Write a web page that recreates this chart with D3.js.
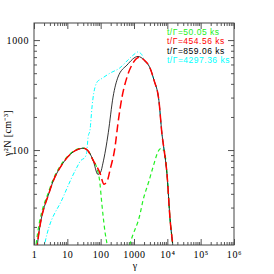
<!DOCTYPE html>
<html>
<head>
<meta charset="utf-8">
<script src="https://cdn.jsdelivr.net/npm/d3@7"></script>
<style>
  body { margin: 0; background: #fff; }
  svg { display: block; }
  .tick text { font-family: "Liberation Serif", serif; font-size: 10px; letter-spacing: 0.6px; fill: #000; }
  .axis path { display: none; }
  .axis line { stroke: #555; }
</style>
</head>
<body>
<div id="chart"></div>
<script>
// shared high-energy cutoff, same for every curve
const tailGamma = [2000, 3000, 4000, 5600, 6900, 8000, 9800, 12000, 14800, 16500]
const tailN = [660, 560, 430, 280, 140, 100, 60, 24, 13, 9]

// t/Γ = 50.05 ks
const gGamma = [1.1, 1.15, 3, 7.4, 14.8, 22, 29.5, 40, 59, 80, 95, 105, 117, 135, 155, 170,
  650, 760, 1510, 1870, 2800, 3720, 5600, 6800, 7600]
const gN = [12, 13.7, 45, 78, 97, 103, 104, 100, 81, 66, 50, 36, 26, 18, 14, 11.5,
  11.5, 14, 26, 35, 52, 70, 100, 104, 100]

// t/Γ = 454.56 ks
const rGamma = [1.2, 1.26, 3, 7.4, 14.8, 22, 29.5, 40, 59, 95, 126, 160, 191, 269, 331, 437, 617, 940, 1500]
const rN = [12, 13.7, 43, 76, 96, 102, 104, 100, 81, 62, 49, 53, 66, 106, 176, 303, 461, 620, 700]

// t/Γ = 859.06 ks
const kGamma = [1.2, 1.26, 3, 7.4, 14.8, 22, 29.5, 40, 59, 83, 100, 117, 140, 170, 235, 331, 617, 1320]
const kN = [12, 13.7, 43, 76, 96, 102, 104, 100, 81, 60, 63, 76, 100, 145, 303, 461, 593, 710]

// t/Γ = 4297.36 ks
const cGamma = [1.9, 2.1, 7.4, 19.5, 25, 34, 38, 42, 48, 55, 62, 68, 80, 100, 190, 380, 660, 1000, 1300, 1700]
const cN = [12, 14, 37, 70, 80, 86, 95, 131, 153, 246, 330, 374, 420, 440, 500, 560, 660, 740, 780, 740]

const labels = ['t/Γ=50.05 ks', 't/Γ=454.56 ks', 't/Γ=859.06 ks', 't/Γ=4297.36 ks']
const colors = ['#22f022', '#ff0000', '#000000', '#00ffff']

const xDomain = [1, 1e6]
const yDomain = [13.7, 1430]
const xMajor = [1, 10, 100, 1000, 1e4, 1e5, 1e6]
const yMajor = [100, 1000]

const W = 274, H = 274
const m = {left: 34, right: 40, top: 23, bottom: 29}
const iw = W - m.left - m.right
const ih = H - m.top - m.bottom

const x = d3.scaleLog().domain(xDomain).range([0, iw])
const y = d3.scaleLog().domain(yDomain).range([ih, 0])

const svg = d3.select('#chart').append('svg')
  .attr('width', W).attr('height', H)
const g = svg.append('g').attr('transform', `translate(${m.left},${m.top})`)

g.append('clipPath').attr('id', 'clip')
  .append('rect').attr('width', iw).attr('height', ih)

const sup = {'4': '⁴', '5': '⁵', '6': '⁶', '7': '⁷', '8': '⁸'}
function xFmt(d) {
  const e = Math.round(Math.log10(d))
  return e <= 3 ? String(d) : '10' + sup[e]
}

const xMinor = x.ticks().filter(d => xMajor.indexOf(d) < 0)
const yMinor = y.ticks().filter(d => yMajor.indexOf(d) < 0)

// bottom / top
g.append('g').attr('class', 'axis').attr('transform', `translate(0,${ih})`)
  .call(d3.axisBottom(x).tickValues(xMinor).tickSize(-3).tickFormat(''))
g.append('g').attr('class', 'axis').attr('transform', `translate(0,${ih})`)
  .call(d3.axisBottom(x).tickValues(xMajor).tickSize(-6).tickPadding(6).tickFormat(xFmt))
g.append('g').attr('class', 'axis')
  .call(d3.axisTop(x).tickValues(xMinor).tickSize(-3).tickFormat(''))
g.append('g').attr('class', 'axis')
  .call(d3.axisTop(x).tickValues(xMajor).tickSize(-6).tickFormat(''))

// left / right
g.append('g').attr('class', 'axis')
  .call(d3.axisLeft(y).tickValues(yMinor).tickSize(-3).tickFormat(''))
g.append('g').attr('class', 'axis')
  .call(d3.axisLeft(y).tickValues(yMajor).tickSize(-6).tickPadding(5).tickFormat(d3.format('d')))
g.append('g').attr('class', 'axis').attr('transform', `translate(${iw},0)`)
  .call(d3.axisRight(y).tickValues(yMinor).tickSize(-3).tickFormat(''))
g.append('g').attr('class', 'axis').attr('transform', `translate(${iw},0)`)
  .call(d3.axisRight(y).tickValues(yMajor).tickSize(-6).tickFormat(''))

g.selectAll('.axis .tick line').attr('stroke-width', 1)

const line = d3.line()
  .x(d => x(d[0]))
  .y(d => y(d[1]))
  .curve(d3.curveMonotoneX)

function pts(gs, ns, withTail) {
  let a = gs.map((v, i) => [v, ns[i]])
  if (withTail) a = a.concat(tailGamma.map((v, i) => [v, tailN[i]]))
  return a
}

const series = [
  {p: pts(cGamma, cN, true), color: colors[3], dash: '4,2,1,2', w: 1},
  {p: pts(gGamma, gN, false).concat(tailGamma.filter(v => v > 7600).map(v => [v, tailN[tailGamma.indexOf(v)]])),
    color: colors[0], dash: '4,3', w: 1.2},
  {p: pts(kGamma, kN, true), color: colors[2], dash: null, w: 0.8},
  {p: pts(rGamma, rN, true), color: colors[1], dash: '8,4', w: 1.5}
]

const plot = g.append('g').attr('clip-path', 'url(#clip)')
plot.selectAll('path.curve')
  .data(series)
  .enter()
  .append('path')
  .attr('class', 'curve')
  .attr('d', d => line(d.p))
  .attr('fill', 'none')
  .attr('stroke', d => d.color)
  .attr('stroke-width', d => d.w)
  .attr('stroke-dasharray', d => d.dash)

// frame
g.append('rect').attr('width', iw).attr('height', ih)
  .attr('fill', 'none').attr('stroke', '#444').attr('stroke-width', 1)

// legend
g.selectAll('.leg')
  .data(labels)
  .enter()
  .append('text')
  .attr('class', 'leg')
  .attr('x', 133)
  .attr('y', (d, i) => 12 + i * 9.4)
  .attr('fill', (d, i) => colors[i])
  .style('font-family', '"Liberation Sans", sans-serif')
  .style('font-size', '8.5px')
  .style('letter-spacing', '0.5px')
  .text(d => d)

// axis titles
svg.append('text')
  .attr('x', 135).attr('y', 269)
  .attr('text-anchor', 'middle')
  .style('font-family', '"Liberation Serif", serif')
  .style('font-size', '10px')
  .text('γ')

svg.append('text')
  .attr('transform', 'translate(11,133) rotate(-90)')
  .attr('text-anchor', 'middle')
  .style('font-family', '"Liberation Serif", serif')
  .style('font-size', '10px')
  .style('letter-spacing', '0.4px')
  .text('γ²N [cm⁻³]')
</script>
</body>
</html>
